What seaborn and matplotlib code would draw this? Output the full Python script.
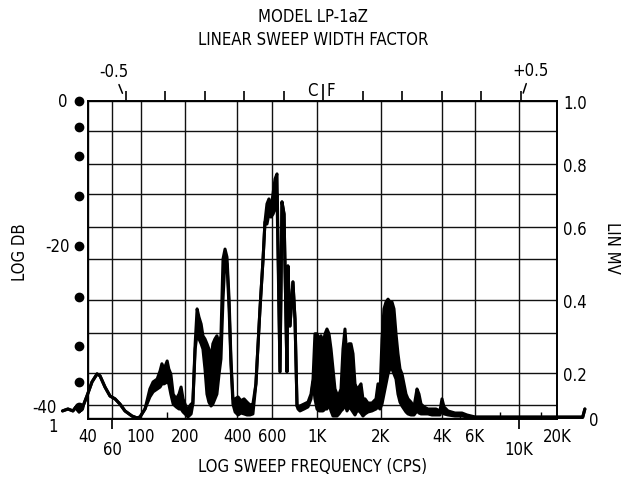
import numpy as np
import pandas as pd
import matplotlib
matplotlib.use("Agg")
import matplotlib.pyplot as plt
from matplotlib import font_manager
import seaborn as sns

# pen trace: sweep frequency (cps), upper and lower edge of the inked band (lin mV)
freq = [26, 28.5, 31, 32.6, 34.4, 36.1, 39.3, 42.8, 46.6, 49, 53.3, 58, 63.3, 69, 75.4, 85.3, 93.2, 98.3,
        106.5, 115, 121, 129, 135, 139, 144, 151, 155, 160, 166, 174, 182, 188, 194, 203, 208, 217, 222,
        229, 235, 241, 248, 254, 261, 268, 275, 283, 290, 298, 306, 315, 323, 332, 341, 350, 360, 369,
        379, 390, 405, 419, 434, 449, 465, 481, 498, 522, 541, 553, 566, 579, 593, 607, 621, 635, 657,
        672, 688, 711, 719, 736, 761, 779, 797, 806, 824, 863, 903, 934, 956, 977, 1000, 1022, 1044,
        1067, 1091, 1114, 1139, 1164, 1189, 1215, 1242, 1269, 1297, 1325, 1354, 1384, 1414, 1445, 1477,
        1509, 1542, 1576, 1610, 1645, 1682, 1737, 1814, 1895, 1936, 1978, 2023, 2069, 2117, 2166, 2215,
        2266, 2318, 2372, 2426, 2482, 2539, 2597, 2657, 2718, 2812, 2910, 3011, 3080, 3151, 3260, 3411,
        3570, 3736, 3910, 4000, 4100, 4306, 4693, 5114, 5438, 6000, 10000, 20000, 32000, 33300]
lvl_hi = [0.054, 0.069, 0.054, 0.085, 0.046, 0.069, 0.128, 0.172, 0.197, 0.191, 0.156, 0.128, 0.119,
          0.103, 0.054, 0.015, 0.0, 0.008, 0.069, 0.150, 0.172, 0.181, 0.205, 0.223, 0.210, 0.230, 0.210,
          0.197, 0.134, 0.119, 0.134, 0.156, 0.119, 0.085, 0.069, 0.103, 0.103, 0.273, 0.373, 0.348,
          0.327, 0.293, 0.285, 0.273, 0.260, 0.235, 0.273, 0.285, 0.293, 0.273, 0.293, 0.500, 0.531,
          0.506, 0.402, 0.235, 0.119, 0.119, 0.125, 0.113, 0.119, 0.109, 0.100, 0.103, 0.166, 0.373,
          0.500, 0.615, 0.670, 0.685, 0.655, 0.700, 0.750, 0.767, 0.203, 0.676, 0.639, 0.203, 0.483,
          0.321, 0.444, 0.342, 0.092, 0.092, 0.092, 0.103, 0.109, 0.134, 0.181, 0.298, 0.298, 0.285,
          0.293, 0.273, 0.298, 0.312, 0.298, 0.260, 0.210, 0.150, 0.134, 0.134, 0.150, 0.260, 0.312,
          0.235, 0.273, 0.273, 0.248, 0.166, 0.150, 0.156, 0.166, 0.119, 0.119, 0.106, 0.106, 0.119,
          0.166, 0.134, 0.285, 0.373, 0.394, 0.402, 0.394, 0.394, 0.373, 0.298, 0.248, 0.210, 0.197,
          0.166, 0.134, 0.119, 0.109, 0.085, 0.150, 0.134, 0.103, 0.085, 0.069, 0.069, 0.069, 0.054,
          0.119, 0.085, 0.054, 0.038, 0.038, 0.023, 0.008, 0.008, 0.008, 0.008, 0.069]
lvl_lo = [0.054, 0.069, 0.054, 0.085, 0.046, 0.069, 0.128, 0.172, 0.197, 0.191, 0.156, 0.128, 0.119,
          0.103, 0.054, 0.015, 0.0, 0.008, 0.069, 0.125, 0.141, 0.150, 0.156, 0.166, 0.166, 0.172, 0.166,
          0.134, 0.103, 0.085, 0.069, 0.069, 0.046, 0.023, 0.008, 0.031, 0.103, 0.260, 0.298, 0.285,
          0.273, 0.260, 0.210, 0.134, 0.109, 0.092, 0.103, 0.119, 0.134, 0.197, 0.235, 0.402, 0.500,
          0.488, 0.373, 0.223, 0.103, 0.046, 0.023, 0.038, 0.031, 0.023, 0.023, 0.031, 0.166, 0.373,
          0.500, 0.615, 0.609, 0.639, 0.630, 0.639, 0.655, 0.700, 0.203, 0.676, 0.639, 0.203, 0.483,
          0.321, 0.444, 0.342, 0.092, 0.069, 0.054, 0.069, 0.085, 0.119, 0.172, 0.119, 0.069, 0.054,
          0.054, 0.054, 0.069, 0.069, 0.103, 0.054, 0.015, 0.015, 0.015, 0.031, 0.054, 0.069, 0.103,
          0.054, 0.085, 0.069, 0.046, 0.023, 0.054, 0.054, 0.038, 0.015, 0.031, 0.046, 0.054, 0.069,
          0.085, 0.069, 0.103, 0.134, 0.166, 0.197, 0.210, 0.210, 0.197, 0.181, 0.134, 0.109, 0.092,
          0.069, 0.046, 0.031, 0.023, 0.023, 0.054, 0.038, 0.031, 0.031, 0.031, 0.023, 0.023, 0.023,
          0.069, 0.031, 0.023, 0.015, 0.015, 0.008, 0.004, 0.004, 0.004, 0.004, 0.069]

freq_ticks = [40, 60, 100, 200, 400, 600, 1000, 2000, 4000, 6000, 10000, 20000]
freq_labels = ["40", "60", "100", "200", "400", "600", "1K", "2K", "4K", "6K", "10K", "20K"]
freq_low = ["60", "10K"]          # printed one step lower
freq_minor = [150, 5000, 8000, 15000]
mv_ticks = [0, 0.1, 0.2, 0.3, 0.4, 0.5, 0.6, 0.7, 0.8, 0.9, 1.0]
mv_labels = ["0", "", "0.2", "", "0.4", "", "0.6", "", "0.8", "", "1.0"]
db_levels = [0, -5, -10, -15, -20, -25, -30, -35, -40]
db_labels = {0: "0", -20: "-20", -40: "-40"}
cf_ticks = [-0.5, -0.4, -0.3, -0.2, -0.1, 0, 0.1, 0.2, 0.3, 0.4, 0.5]

# the printed grid is not evenly ruled -> piecewise scales (value -> paper position)
X_ANCH_F = np.log10([10, 40, 60, 100, 200, 400, 600, 1000, 2000, 4000, 6000, 10000, 20000, 100000])
X_ANCH_P = [6, 88, 112, 141, 185, 237, 272, 317, 381, 442, 475, 519, 557, 645]
Y_ANCH_V = [-1, 0, 0.1, 0.2, 0.3, 0.4, 0.5, 0.6, 0.7, 0.8, 0.9, 1.0, 2]
Y_ANCH_P = [-130, 0, 13, 45, 85, 118, 159, 191, 224, 254, 287, 317, 617]
DB_ANCH_V = [-100, -40, -35, -30, -25, -20, -15, -10, -5, 0, 50]
DB_ANCH_P = [-288, 12, 37, 73, 122, 173, 223, 263, 292, 318, 568]


def fx(f):
    return np.interp(np.log10(np.clip(np.asarray(f, float), 1e-6, None)), X_ANCH_F, X_ANCH_P)


def fx_inv(p):
    return 10 ** np.interp(np.asarray(p, float), X_ANCH_P, X_ANCH_F)


def fy(v):
    return np.interp(np.asarray(v, float), Y_ANCH_V, Y_ANCH_P)


def fy_inv(p):
    return np.interp(np.asarray(p, float), Y_ANCH_P, Y_ANCH_V)


def fdb(v):
    return np.interp(np.asarray(v, float), DB_ANCH_V, DB_ANCH_P)


def fdb_inv(p):
    return np.interp(np.asarray(p, float), DB_ANCH_P, DB_ANCH_V)


sns.set_theme(style="white")
names = {f.name for f in font_manager.fontManager.ttflist}
if "Liberation Sans Narrow" in names:
    plt.rcParams["font.family"] = ["Liberation Sans Narrow", "DejaVu Sans"]
else:
    plt.rcParams["font.family"] = ["DejaVu Sans"]
    plt.rcParams["font.stretch"] = "condensed"
plt.rcParams.update({"text.color": "black", "axes.labelcolor": "black",
                     "xtick.color": "black", "ytick.color": "black"})
FS = 12

df = pd.DataFrame({"freq": freq, "hi": lvl_hi, "lo": lvl_lo})

fig = plt.figure(figsize=(6.26, 4.81), dpi=100)
ax = fig.add_axes([88 / 626, 1 - 420 / 481, 469 / 626, 318 / 481])
ax.set_xscale("function", functions=(fx, fx_inv))
ax.set_yscale("function", functions=(fy, fy_inv))
ax.set_xlim(40, 20000)
ax.set_ylim(-0.008, 1.0)

# twins first (twinx resets the main y ticks to the left)
ax_db = ax.twinx()
ax_top = ax.twiny()

# trace
ax.fill_between(df["freq"], df["lo"], df["hi"], color="black", lw=0, clip_on=False, zorder=3)
sns.lineplot(data=df, x="freq", y="hi", ax=ax, color="black", lw=2.2, estimator=None,
             sort=False, clip_on=False, zorder=4)
sns.lineplot(data=df, x="freq", y="lo", ax=ax, color="black", lw=2.2, estimator=None,
             sort=False, clip_on=False, zorder=4)
ax.set_xlabel("")
ax.set_ylabel("")

# grid + frame
ax.grid(True, which="major", color="#111111", lw=1.0)
for sp in ax.spines.values():
    sp.set_visible(True)
    sp.set_color("black")
    sp.set_linewidth(1.4)

ax.set_xticks(freq_ticks)
ax.set_xticklabels(freq_labels, fontsize=FS)
ax.set_xticks(freq_minor, minor=True)
ax.tick_params(axis="x", which="major", length=0, pad=6)
ax.tick_params(axis="x", which="minor", direction="in", length=5, width=1.0, bottom=True)
ax.set_yticks(mv_ticks)
ax.set_yticklabels(mv_labels, fontsize=FS)
ax.tick_params(axis="y", which="major", length=0, pad=4.5, left=False, labelleft=False,
               right=True, labelright=True)

for t, lab in zip(ax.xaxis.get_major_ticks(), freq_labels):
    if lab in freq_low:
        t.set_pad(15)
        t.tick1line.set_markersize(7)
ax.yaxis.get_major_ticks()[0].set_pad(23)

# LOG DB scale (dots on the left)
ax_db.set_yscale("function", functions=(fdb, fdb_inv))
ax_db.set_ylim(-42.4, 0)
ax_db.set_yticks([])
for sp in ax_db.spines.values():
    sp.set_visible(False)
ydb = ax_db.get_yaxis_transform()
ax_db.plot([-0.0192] * len(db_levels), db_levels, "o", color="black", ms=6,
           transform=ydb, clip_on=False)
db_text_x = {0: -0.043, -20: -0.038, -40: -0.066}
for lv, lab in db_labels.items():
    ax_db.text(db_text_x[lv], lv, lab, transform=ydb, ha="right", va="center", fontsize=FS)

# linear sweep width factor on top
ax_top.set_xlim(-0.595, 0.592)
ax_top.set_xticks(cf_ticks)
ax_top.set_xticklabels([])
ax_top.tick_params(axis="x", direction="out", length=7, width=1.2, top=True, bottom=False)
for sp in ax_top.spines.values():
    sp.set_visible(False)
ax_top.xaxis.get_major_ticks()[cf_ticks.index(0)].tick2line.set_markersize(12)
xt = ax_top.get_xaxis_transform()
ax_top.annotate("-0.5", xy=(-0.5, 1), xycoords=xt, xytext=(-12, 30), textcoords="offset pixels",
                ha="center", va="center", fontsize=FS,
                arrowprops=dict(arrowstyle="-", lw=1.1, color="black", shrinkA=1, shrinkB=6))
ax_top.annotate("+0.5", xy=(0.5, 1), xycoords=xt, xytext=(10, 31), textcoords="offset pixels",
                ha="center", va="center", fontsize=FS,
                arrowprops=dict(arrowstyle="-", lw=1.1, color="black", shrinkA=1, shrinkB=6))
ax_top.annotate("C", xy=(0, 1), xycoords=xt, xytext=(-11, 11), textcoords="offset pixels",
                ha="center", va="center", fontsize=FS)
ax_top.annotate("F", xy=(0, 1), xycoords=xt, xytext=(8, 11), textcoords="offset pixels",
                ha="center", va="center", fontsize=FS)

# titles / labels
fig.text(313 / 626, 1 - 17 / 481, "MODEL LP-1aZ", ha="center", va="center", fontsize=FS)
fig.text(313 / 626, 1 - 40 / 481, "LINEAR SWEEP WIDTH FACTOR", ha="center", va="center", fontsize=FS)
fig.text(313 / 626, 1 - 467 / 481, "LOG SWEEP FREQUENCY (CPS)", ha="center", va="center", fontsize=FS)
fig.text(20 / 626, 1 - 252 / 481, "LOG DB", rotation=90, ha="center", va="center", fontsize=FS)
fig.text(612 / 626, 1 - 248 / 481, "LIN MV", rotation=-90, ha="center", va="center", fontsize=FS)
fig.text(53 / 626, 1 - 427 / 481, "1", ha="center", va="center", fontsize=FS)

fig.savefig("out.png", dpi=100)
